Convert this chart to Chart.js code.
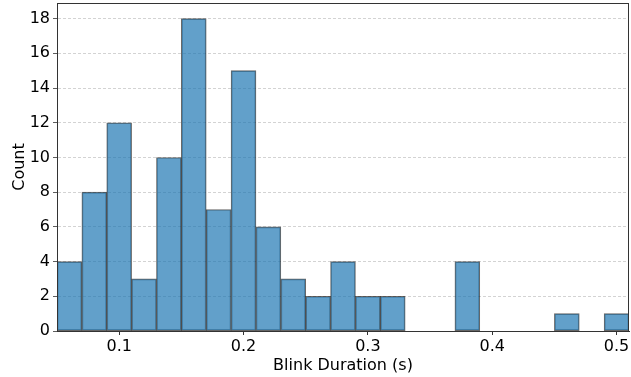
<!DOCTYPE html>
<html>
<head>
<meta charset="utf-8">
<script src="https://cdn.jsdelivr.net/npm/chart.js@4/dist/chart.umd.min.js"></script>
<style>
  html, body { margin: 0; padding: 0; background: #fff; }
  #wrap { width: 631px; height: 377px; }
</style>
</head>
<body>
<div id="wrap"><canvas id="hist"></canvas></div>
<script>
// bin centres (s), 0.02 wide bins from 0.05 to 0.51
const binCenters = [0.06, 0.08, 0.10, 0.12, 0.14, 0.16, 0.18, 0.20, 0.22, 0.24, 0.26, 0.28,
                    0.30, 0.32, 0.34, 0.36, 0.38, 0.40, 0.42, 0.44, 0.46, 0.48, 0.50];
const counts = [4, 8, 12, 3, 10, 18, 7, 15, 6, 3, 2, 4,
                2, 2, 0, 0, 4, 0, 0, 0, 1, 0, 1];
const xTicks = [0.1, 0.2, 0.3, 0.4, 0.5];
const yTicks = [0, 2, 4, 6, 8, 10, 12, 14, 16, 18];

const font = { family: 'DejaVu Sans', size: 16 };

// box around the plot area like matplotlib spines
const frame = {
  id: 'frame',
  afterDraw(chart) {
    const a = chart.chartArea, c = chart.ctx;
    c.save();
    c.strokeStyle = '#333';
    c.lineWidth = 1;
    c.strokeRect(a.left + 0.5, a.top + 0.5, a.right - a.left - 1, a.bottom - a.top);
    c.restore();
  }
};

document.addEventListener('DOMContentLoaded', function() {
  const ctx = document.getElementById('hist').getContext('2d');
  new Chart(ctx, {
    type: 'bar',
    data: {
      datasets: [{
        data: binCenters.map((x, i) => ({ x: x, y: counts[i] })),
        backgroundColor: 'rgba(31,119,180,0.7)',
        borderColor: 'rgba(0,0,0,0.6)',
        borderWidth: 1,
        borderSkipped: false,
        barPercentage: 1,
        categoryPercentage: 1
      }]
    },
    options: {
      responsive: true,
      maintainAspectRatio: false,
      animation: false,
      layout: { padding: { top: 3, right: 2, left: 0, bottom: 0 } },
      plugins: { legend: { display: false }, tooltip: { enabled: false } },
      scales: {
        x: {
          type: 'linear',
          min: 0.05,
          max: 0.51,
          offset: false,
          afterBuildTicks: s => { s.ticks = xTicks.map(v => ({ value: v })); },
          afterFit: s => { s.height = 46; s.paddingLeft = 0; s.paddingRight = 0; },
          ticks: { color: '#000', font: font, padding: 2, maxRotation: 0,
                   callback: v => String(v) },
          grid: { offset: false, drawOnChartArea: false, drawTicks: true, tickLength: 4, tickColor: '#333' },
          border: { color: '#333' },
          title: { display: true, text: 'Blink Duration (s)', color: '#000', font: font,
                   padding: { top: 0, bottom: 2 } }
        },
        y: {
          min: 0,
          max: 18.9,
          afterBuildTicks: s => { s.ticks = yTicks.map(v => ({ value: v })); },
          afterFit: s => { s.width = 57; s.paddingTop = 0; s.paddingBottom = 0; },
          ticks: { color: '#000', font: font, padding: 3 },
          grid: { color: '#c8c8c8', lineWidth: 0.8, tickLength: 4, tickColor: '#333', tickBorderDash: [] },
          border: { color: '#333', dash: [3, 2] },
          title: { display: true, text: 'Count', color: '#000', font: font,
                   padding: { top: 10, bottom: 0 } }
        }
      }
    },
    plugins: [frame]
  });
});
</script>
</body>
</html>
